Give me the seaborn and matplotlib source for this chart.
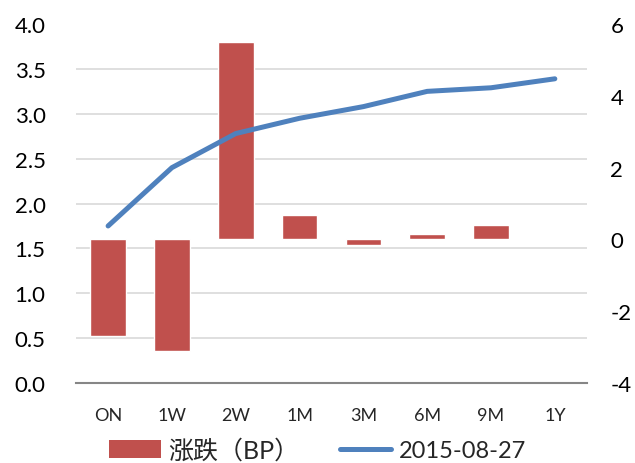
import numpy as np
import pandas as pd
import matplotlib
matplotlib.use("Agg")
import matplotlib.pyplot as plt
import seaborn as sns
from matplotlib.patches import Patch
from matplotlib.lines import Line2D

# ---- data ----
tenors = ["ON", "1W", "2W", "1M", "3M", "6M", "9M", "1Y"]
yields_0827 = [1.75, 2.40, 2.78, 2.95, 3.08, 3.25, 3.29, 3.39]   # left axis
change_bp = [-2.70, -3.10, 5.50, 0.68, -0.15, 0.15, 0.40, 0.0]    # right axis

left_ticks = [0.0, 0.5, 1.0, 1.5, 2.0, 2.5, 3.0, 3.5, 4.0]
right_ticks = [-4, -2, 0, 2, 4, 6]

bar_color = "#C0504D"
line_color = "#4F81BD"
grid_color = "#D9D9D9"
axis_color = "#868686"

sns.set_theme(style="white")
plt.rcParams["font.family"] = ["Lato", "Noto Sans CJK SC", "DejaVu Sans"]

df = pd.DataFrame({"tenor": tenors, "yield": yields_0827, "change": change_bp})

fig = plt.figure(figsize=(6.35, 4.64), dpi=100)
ax1 = fig.add_axes([0.12, 0.1724, 0.804, 0.7736])
ax2 = ax1.twinx()

# bars on the right axis (behind)
sns.barplot(data=df, x="tenor", y="change", ax=ax2, color=bar_color,
            saturation=1, width=0.56, errorbar=None)
ax2.set_ylim(-4, 6)
ax2.set_yticks(right_ticks)
ax2.set_yticklabels([str(t) for t in right_ticks])
# gridlines that follow the left axis ticks, drawn behind the bars
ax2.set_yticks(np.linspace(-4, 6, len(left_ticks)), minor=True)
ax2.grid(which="minor", axis="y", color=grid_color, linewidth=1.2)
ax2.grid(which="major", visible=False)
ax2.set_axisbelow(True)
ax2.set_ylabel("")
ax2.set_xlabel("")

# line on the left axis (in front)
sns.lineplot(data=df, x="tenor", y="yield", ax=ax1, color=line_color,
             linewidth=3.6, sort=False, solid_capstyle="round")
ax1.set_ylim(0, 4)
ax1.set_yticks(left_ticks)
ax1.set_yticklabels([f"{t:.1f}" for t in left_ticks])
ax1.set_xlim(-0.5, len(tenors) - 0.5)
ax1.set_xlabel("")
ax1.set_ylabel("")
ax1.set_zorder(ax2.get_zorder() + 1)
ax1.patch.set_visible(False)

for ax in (ax1, ax2):
    for side in ("top", "left", "right", "bottom"):
        ax.spines[side].set_visible(False)
    ax.tick_params(axis="both", which="both", length=0)
ax2.spines["bottom"].set_visible(True)
ax2.spines["bottom"].set_color(axis_color)
ax2.spines["bottom"].set_linewidth(1.5)

ax1.tick_params(axis="y", labelsize=16, pad=22, labelcolor="#000000")
ax2.tick_params(axis="y", labelsize=16, pad=17, labelcolor="#000000")
ax1.tick_params(axis="x", labelsize=13, pad=17)
ax2.tick_params(axis="x", labelsize=13, pad=17)

handles = [Patch(facecolor=bar_color, edgecolor="none"),
           Line2D([0], [0], color=line_color, linewidth=3.6, solid_capstyle="round")]
labels = ["涨跌（BP）", "2015-08-27"]
leg = fig.legend(handles, labels, loc="lower center", bbox_to_anchor=(0.5, -0.042),
                 ncol=2, frameon=False, fontsize=17, handlelength=2.2,
                 handleheight=0.8, columnspacing=1.7, handletextpad=0.3)
leg.get_texts()[0].set_fontsize(18)

fig.savefig("out.png", dpi=100)
